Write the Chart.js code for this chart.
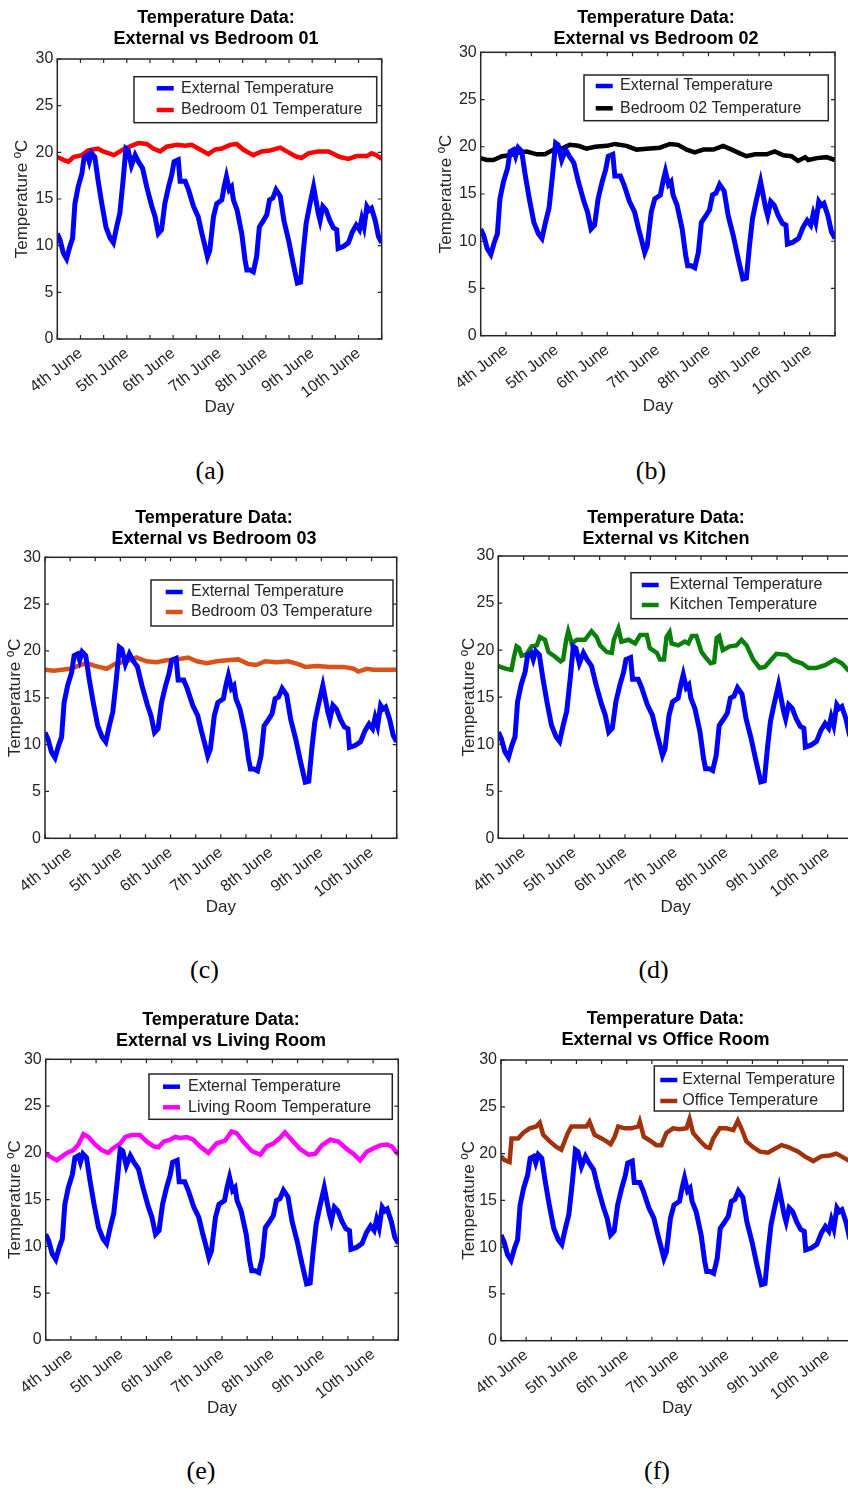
<!DOCTYPE html>
<html>
<head>
<meta charset="utf-8">
<script src="https://cdn.jsdelivr.net/npm/chart.js@4.4.0/dist/chart.umd.min.js"></script>
<style>
html,body{margin:0;padding:0;background:#ffffff;}
body{position:relative;width:848px;height:1488px;overflow:hidden;}
canvas{position:absolute;}
.cap{position:absolute;font-family:"Liberation Serif","Times New Roman",serif;font-size:26px;color:#000;transform:translate(-50%,-50%);white-space:nowrap;line-height:1;}
</style>
</head>
<body>
<script>
// ---------------- DATA ----------------
const dayLabels = ['4th June','5th June','6th June','7th June','8th June','9th June','10th June'];
const extLabel = 'External Temperature';

// time in days since start of 4th June
const extDays = [0.00,0.06,0.13,0.20,0.27,0.33,0.38,0.45,0.53,0.58,
  0.65,0.69,0.74,0.81,0.88,0.96,1.05,1.14,1.21,1.28,
  1.35,1.42,1.48,1.53,1.60,1.68,1.75,1.84,1.93,2.04,
  2.11,2.18,2.25,2.32,2.40,2.47,2.52,2.61,2.65,2.76,
  2.83,2.94,3.04,3.12,3.17,3.24,3.29,3.37,3.44,3.55,
  3.60,3.65,3.71,3.76,3.80,3.88,3.98,4.05,4.09,4.16,
  4.23,4.30,4.36,4.45,4.52,4.58,4.65,4.72,4.81,4.89,
  4.99,5.09,5.18,5.25,5.31,5.37,5.44,5.53,5.58,5.63,
  5.67,5.73,5.80,5.88,5.96,6.03,6.06,6.17,6.28,6.37,
  6.45,6.52,6.57,6.62,6.68,6.73,6.78,6.86,6.93,7.00];
const extTemp = [11.3,10.6,9.2,8.6,9.9,10.8,14.5,16.3,17.7,19.5,
  19.7,19.0,19.9,19.5,17.0,14.5,12.0,10.8,10.3,12.0,
  13.5,17.0,20.4,20.2,18.6,19.7,19.0,18.3,16.3,14.2,
  13.1,11.3,11.7,14.5,16.3,17.6,19.0,19.2,16.9,16.9,
  16.0,14.2,13.1,11.3,10.3,8.8,9.5,13.1,14.5,14.9,
  16.3,17.4,16.0,16.3,14.9,13.8,11.3,8.5,7.4,7.4,
  7.2,8.8,12.0,12.7,13.3,14.9,15.1,16.0,15.3,12.7,
  10.6,8.1,6.0,6.1,9.5,12.4,14.2,16.3,14.9,13.5,
  12.7,14.2,13.8,12.7,11.9,11.7,9.7,9.9,10.3,11.5,
  12.2,11.7,12.9,12.0,14.2,13.8,14.0,12.7,11.0,10.3];

const bed01Days = [0.00,0.13,0.24,0.35,0.53,0.67,0.88,0.99,1.22,1.42,1.60,1.75,1.93,2.07,2.22,2.36,2.58,2.76,2.90,3.08,3.26,3.40,3.55,3.73,3.87,4.01,4.23,4.41,4.59,4.81,4.95,5.13,5.27,5.42,5.63,5.85,6.10,6.28,6.46,6.68,6.78,6.89,7.00];
const bed01Temp = [19.5,19.2,19.0,19.5,19.7,20.2,20.4,20.1,19.7,20.3,20.7,21.0,20.9,20.4,20.1,20.6,20.8,20.7,20.8,20.3,19.8,20.3,20.4,20.8,20.9,20.3,19.7,20.1,20.2,20.5,20.1,19.6,19.4,19.9,20.1,20.1,19.5,19.3,19.6,19.6,19.9,19.7,19.3];

const bed02Days = [0.00,0.12,0.25,0.42,0.58,0.74,0.91,1.11,1.27,1.44,1.60,1.76,1.93,2.09,2.26,2.49,2.65,2.88,3.08,3.28,3.54,3.74,3.90,4.07,4.23,4.40,4.60,4.79,4.96,5.12,5.25,5.42,5.65,5.81,5.98,6.14,6.27,6.41,6.47,6.64,6.83,7.00];
const bed02Temp = [18.8,18.6,18.6,19.0,19.1,19.4,19.5,19.2,19.2,19.7,19.8,20.2,20.1,19.8,20.0,20.1,20.3,20.1,19.7,19.8,19.9,20.3,20.2,19.7,19.4,19.7,19.7,20.1,19.7,19.3,19.0,19.2,19.2,19.5,19.1,19.0,18.5,18.9,18.6,18.8,18.9,18.6];

const bed03Days = [0.00,0.17,0.33,0.50,0.66,0.83,0.99,1.23,1.39,1.62,1.82,2.02,2.22,2.42,2.62,2.85,3.02,3.22,3.42,3.62,3.85,4.05,4.21,4.38,4.61,4.84,5.04,5.18,5.41,5.67,5.94,6.14,6.24,6.40,6.54,6.74,7.00];
const bed03Temp = [18.0,17.9,18.0,18.1,18.4,18.7,18.4,18.1,18.6,18.9,19.3,18.9,18.8,19.0,19.1,19.3,18.9,18.7,18.9,19.0,19.1,18.6,18.5,18.9,18.8,18.9,18.6,18.3,18.4,18.3,18.3,18.1,17.8,18.1,18.0,18.0,18.0];

const kitchenDays = [0.00,0.10,0.16,0.26,0.31,0.36,0.41,0.46,0.55,0.66,0.76,0.82,0.92,0.99,1.12,1.23,1.28,1.34,1.38,1.45,1.55,1.71,1.78,1.84,1.94,2.01,2.14,2.24,2.28,2.37,2.43,2.57,2.70,2.80,2.93,2.99,3.13,3.19,3.27,3.32,3.38,3.42,3.55,3.68,3.75,3.82,3.91,4.01,4.11,4.19,4.26,4.31,4.36,4.43,4.57,4.70,4.80,4.90,5.03,5.16,5.26,5.39,5.49,5.69,5.82,5.99,6.12,6.28,6.45,6.64,6.78,6.90,7.00];
const kitchenTemp = [18.3,18.1,18.0,17.9,19.3,20.4,20.2,19.4,19.5,20.4,20.5,21.4,21.1,19.8,19.3,18.8,19.0,21.1,22.0,20.7,21.1,21.1,21.6,22.0,21.4,20.5,19.8,19.7,21.1,22.3,20.9,21.1,20.7,21.6,21.6,20.2,19.7,19.0,19.0,21.4,21.9,20.7,20.5,20.9,20.7,21.5,21.5,19.8,19.1,18.6,18.7,21.3,21.5,20.0,20.4,20.5,21.1,20.5,19.0,18.1,18.2,19.0,19.6,19.5,18.9,18.6,18.1,18.1,18.4,19.0,18.6,17.9,17.6];

const livingDays = [0.00,0.09,0.22,0.32,0.42,0.55,0.65,0.75,0.85,0.98,1.11,1.24,1.34,1.48,1.58,1.71,1.87,2.01,2.14,2.24,2.34,2.47,2.57,2.67,2.80,2.93,3.06,3.23,3.39,3.56,3.69,3.79,3.92,4.09,4.26,4.39,4.52,4.65,4.75,4.88,5.05,5.22,5.35,5.48,5.65,5.81,5.98,6.11,6.24,6.37,6.51,6.64,6.77,6.87,7.00];
const livingTemp = [19.9,19.6,19.2,19.6,20.0,20.3,20.9,22.0,21.7,20.9,20.3,20.0,20.5,21.0,21.7,21.9,21.9,21.2,20.7,20.6,21.2,21.4,21.7,21.6,21.7,21.4,20.7,20.0,21.0,21.3,22.3,22.1,21.2,20.2,19.8,20.7,21.0,21.6,22.2,21.4,20.4,19.8,19.9,20.8,21.4,21.2,20.4,19.9,19.2,20.1,20.5,20.8,20.9,20.7,19.8];

const officeDays = [0.00,0.07,0.17,0.21,0.34,0.44,0.57,0.70,0.77,0.84,0.97,1.10,1.20,1.27,1.33,1.40,1.56,1.70,1.76,1.86,2.00,2.10,2.18,2.26,2.33,2.46,2.59,2.73,2.76,2.84,2.96,3.09,3.19,3.29,3.42,3.55,3.69,3.75,3.82,3.95,4.08,4.15,4.22,4.35,4.48,4.62,4.71,4.78,4.88,5.01,5.15,5.31,5.41,5.58,5.71,5.91,6.04,6.21,6.37,6.54,6.67,6.90,7.00];
const officeTemp = [19.7,19.3,19.1,21.6,21.6,22.2,22.7,22.9,23.3,22.0,21.3,20.7,20.4,21.4,22.2,22.9,22.9,22.9,23.4,22.0,21.6,21.3,21.0,21.8,22.9,22.7,22.7,22.9,23.4,21.8,21.4,20.9,20.9,22.2,22.7,22.6,22.7,23.7,22.2,21.4,20.7,20.6,21.6,22.7,22.7,22.5,23.5,22.7,21.3,20.7,20.2,20.1,20.4,20.9,20.7,20.2,19.7,19.2,19.7,19.8,20.0,19.3,19.0];

// ---------------- LAYOUT / STYLE ----------------
const FONT = '"Liberation Sans", Arial, Helvetica, sans-serif';
const TXT = '#262626';
const AX = '#262626';

const panels = [
  {title:['Temperature Data:','External vs Bedroom 01'], label:'Bedroom 01 Temperature', color:'#ff0000', days:bed01Days, temps:bed01Temp,
   box:{L:57.3,T:59,R:381.7,B:339,TC:216,TY1:18,YTX:22.3,XTY:407.5},
   leg:{dx:76.7,dy:17.7,w:242.7,h:46,sx:22.7,tx:47,r1:11.6,r2:33.3}, cap:{x:210,y:471,t:'(a)'}},
  {title:['Temperature Data:','External vs Bedroom 02'], label:'Bedroom 02 Temperature', color:'#000000', days:bed02Days, temps:bed02Temp,
   box:{L:480.7,T:52.3,R:835,B:335.7,TC:656,TY1:18,YTX:446.3,XTY:406.5},
   leg:{dx:103.3,dy:22.7,w:244.3,h:45.7,sx:11.7,tx:36,r1:11,r2:33.3}, cap:{x:651,y:471,t:'(b)'}},
  {title:['Temperature Data:','External vs Bedroom 03'], label:'Bedroom 03 Temperature', color:'#d95319', days:bed03Days, temps:bed03Temp,
   box:{L:45,T:557.3,R:396.7,B:838.3,TC:214,TY1:518.7,YTX:15.5,XTY:907.3},
   leg:{dx:106,dy:22.7,w:242,h:46,sx:14.7,tx:40,r1:12,r2:32}, cap:{x:204.5,y:970,t:'(c)'}},
  {title:['Temperature Data:','External vs Kitchen'], label:'Kitchen Temperature', color:'#0a800a', days:kitchenDays, temps:kitchenTemp,
   box:{L:498.3,T:556,R:853,B:838.3,TC:666,TY1:518.7,YTX:468.7,XTY:907.3},
   leg:{dx:132.7,dy:16.7,w:220,h:46,sx:10.7,tx:38.5,r1:12.3,r2:32.3}, cap:{x:653.6,y:970,t:'(d)'}},
  {title:['Temperature Data:','External vs Living Room'], label:'Living Room Temperature', color:'#ff00ff', days:livingDays, temps:livingTemp,
   box:{L:45.7,T:1059.3,R:398.3,B:1340,TC:221,TY1:1020.3,YTX:15,XTY:1409},
   leg:{dx:103.3,dy:14.7,w:243.3,h:45.3,sx:14,tx:39,r1:12.7,r2:33.3}, cap:{x:201,y:1471,t:'(e)'}},
  {title:['Temperature Data:','External vs Office Room'], label:'Office Temperature', color:'#a2320c', days:officeDays, temps:officeTemp,
   box:{L:501,T:1060,R:853,B:1340.7,TC:665.5,TY1:1019.7,YTX:469,XTY:1408.3},
   leg:{dx:153.3,dy:6,w:189,h:45,sx:6,tx:28,r1:14,r2:35}, cap:{x:657,y:1471,t:'(f)'}}
];

// axes box with MATLAB-style inward ticks on all four sides
const framePlugin = {
  id: 'frame',
  afterDatasetsDraw(chart) {
    const {ctx, chartArea: {left, right, top, bottom}} = chart;
    const xs = chart.scales.x, ys = chart.scales.y;
    ctx.save();
    ctx.strokeStyle = AX;
    ctx.lineWidth = 1.5;
    ctx.strokeRect(left, top, right - left, bottom - top);
    ctx.lineWidth = 1.2;
    ctx.beginPath();
    xs.ticks.forEach(t => {
      const px = xs.getPixelForValue(t.value);
      ctx.moveTo(px, bottom); ctx.lineTo(px, bottom - 4);
      ctx.moveTo(px, top); ctx.lineTo(px, top + 4);
    });
    ys.ticks.forEach(t => {
      const py = ys.getPixelForValue(t.value);
      ctx.moveTo(left, py); ctx.lineTo(left + 4, py);
      ctx.moveTo(right, py); ctx.lineTo(right - 4, py);
    });
    ctx.stroke();
    ctx.restore();
  }
};

// boxed legend inside the axes (top right)
const boxLegendPlugin = {
  id: 'boxLegend',
  afterDraw(chart, args, o) {
    const {ctx, chartArea} = chart;
    const bx = chartArea.left + o.dx, by = chartArea.top + o.dy;
    ctx.save();
    ctx.fillStyle = '#ffffff';
    ctx.fillRect(bx, by, o.w, o.h);
    ctx.strokeStyle = AX;
    ctx.lineWidth = 1.5;
    ctx.strokeRect(bx, by, o.w, o.h);
    const rows = [o.r1, o.r2];
    chart.data.datasets.forEach((ds, i) => {
      const cy = by + rows[i];
      ctx.strokeStyle = ds.borderColor;
      ctx.lineWidth = 4.5;
      ctx.lineCap = 'butt';
      ctx.beginPath();
      ctx.moveTo(bx + o.sx, cy);
      ctx.lineTo(bx + o.sx + 17, cy);
      ctx.stroke();
      ctx.fillStyle = TXT;
      ctx.font = '16px ' + FONT;
      ctx.textBaseline = 'middle';
      ctx.textAlign = 'left';
      ctx.fillText(ds.label, bx + o.tx, cy);
    });
    ctx.restore();
  }
};

const TFS = 18;
const TLH = TFS * 1.15;   // title line height
const ALH = 17 * 1.2;     // axis title line height
const TPAD = 4;

panels.forEach(p => {
  const b = p.box;
  const cl = Math.round(b.YTX - ALH / 2);
  const ct = Math.round(b.TY1 - TPAD - TLH / 2);
  const cr = Math.round(2 * b.TC - cl);
  const cw = cr - cl;
  const ch = Math.round(b.XTY + ALH / 2 - ct);
  const xH = ch - (b.B - ct);
  const yW = b.L - cl;
  const rW = cr - b.R;
  const padB = b.T - ct - TPAD - 2 * TLH;

  const cv = document.createElement('canvas');
  cv.width = cw; cv.height = ch;
  cv.style.left = cl + 'px'; cv.style.top = ct + 'px';
  document.body.appendChild(cv);

  const cap = document.createElement('div');
  cap.className = 'cap';
  cap.textContent = p.cap.t;
  cap.style.left = p.cap.x + 'px';
  cap.style.top = p.cap.y + 'px';
  document.body.appendChild(cap);

  new Chart(cv, {
    type: 'line',
    data: {
      datasets: [
        {label: extLabel, data: extDays.map((d, i) => ({x: d, y: extTemp[i]})),
         borderColor: '#0000ff', backgroundColor: '#0000ff', borderWidth: 5, pointRadius: 0, tension: 0, clip: 0},
        {label: p.label, data: p.days.map((d, i) => ({x: d, y: p.temps[i]})),
         borderColor: p.color, backgroundColor: p.color, borderWidth: 4.5, pointRadius: 0, tension: 0, clip: 0}
      ]
    },
    options: {
      responsive: false,
      animation: false,
      devicePixelRatio: 1,
      events: [],
      layout: {padding: 0},
      plugins: {
        legend: {display: false},
        tooltip: {enabled: false},
        title: {display: true, text: p.title, color: '#000000',
                font: {family: FONT, size: TFS, weight: 'bold', lineHeight: 1.15},
                padding: {top: TPAD, bottom: padB}},
        boxLegend: p.leg
      },
      scales: {
        x: {
          type: 'linear', position: 'bottom', min: 0, max: 7,
          grid: {display: false, drawTicks: false}, border: {display: false},
          ticks: {stepSize: 0.5, autoSkip: false, minRotation: 38, maxRotation: 38, padding: 5,
                  color: TXT, font: {family: FONT, size: 16},
                  callback: v => {
                    const k = v - 0.5;
                    const r = Math.round(k);
                    return (Math.abs(k - r) < 1e-6 && r >= 0 && r < dayLabels.length) ? dayLabels[r] : '';
                  }},
          title: {display: true, text: 'Day', color: TXT, font: {family: FONT, size: 17, lineHeight: 1.2}, padding: 0},
          afterFit: s => { s.height = xH; s.paddingLeft = 0; s.paddingRight = 0; }
        },
        y: {
          position: 'left', min: 0, max: 30,
          grid: {display: false, drawTicks: false}, border: {display: false},
          ticks: {stepSize: 5, padding: 4, color: TXT, font: {family: FONT, size: 16}},
          title: {display: true, text: 'Temperature ºC', color: TXT, font: {family: FONT, size: 17, lineHeight: 1.2}, padding: 0},
          afterFit: s => { s.width = yW; }
        },
        y2: {
          position: 'right', min: 0, max: 30, display: true,
          grid: {display: false, drawTicks: false}, border: {display: false},
          ticks: {display: false},
          afterFit: s => { s.width = rW; }
        }
      }
    },
    plugins: [framePlugin, boxLegendPlugin]
  });
});
</script>
</body>
</html>
